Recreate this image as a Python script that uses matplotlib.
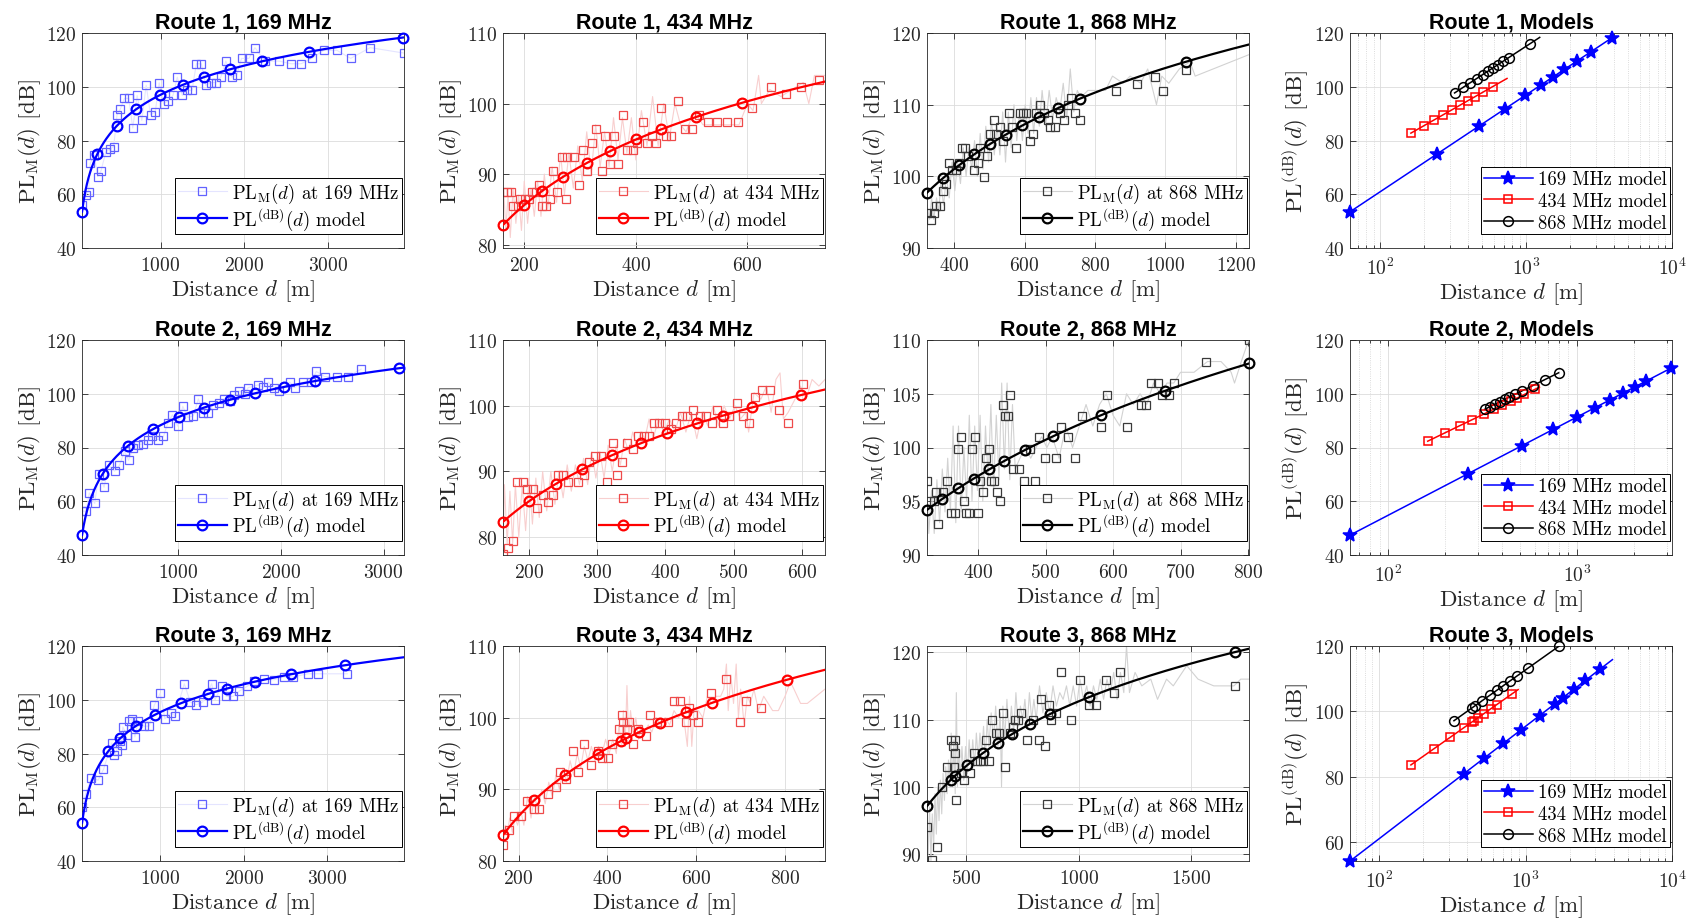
import numpy as np
import matplotlib
matplotlib.use("Agg")
import matplotlib.pyplot as plt
from matplotlib.lines import Line2D
from matplotlib.ticker import MultipleLocator, LogLocator, NullFormatter

plt.rcParams["font.family"] = "cmr10"
plt.rcParams["mathtext.fontset"] = "cm"
plt.rcParams["axes.formatter.use_mathtext"] = True

ROUTES = ["Route 1", "Route 2", "Route 3"]
FREQS = ["169", "434", "868"]

# measured path loss, square markers: (distance [m], PL [dB])
R1_169_SQ = [(62, 56.0), (108, 59.8), (140, 61.0), (160, 71.6), (208, 74.7), (248, 66.6), (288, 68.7),
             (348, 75.9), (392, 76.8), (440, 77.7), (480, 89.7), (520, 91.8), (568, 95.7), (620, 95.7),
             (668, 84.7), (720, 96.8), (776, 87.5), (828, 100.6), (880, 89.7), (936, 90.5), (984, 101.5),
             (1036, 93.7), (1088, 94.7), (1148, 96.8), (1200, 103.6), (1260, 96.8), (1312, 98.7),
             (1376, 98.7), (1428, 108.6), (1488, 108.6), (1540, 100.6), (1600, 101.6), (1660, 101.6),
             (1720, 103.6), (1780, 109.6), (1848, 103.6), (1912, 104.6), (1968, 110.6), (2056, 110.6),
             (2128, 114.6), (2248, 109.6), (2416, 109.6), (2560, 108.6), (2680, 108.6), (2808, 110.6),
             (2948, 113.6), (3108, 113.6), (3272, 110.6), (3504, 114.6), (3904, 112.6)]
R1_434_SQ = [(161.7, 87.4), (169.5, 87.4), (176.7, 87.4), (180.3, 85.4), (188.6, 85.4), (192.2, 86.5),
             (201.2, 86.5), (208.4, 86.5), (213.2, 87.4), (221.5, 87.4), (226.3, 88.5), (232.3, 85.4),
             (239.5, 85.4), (246.1, 86.5), (252.0, 90.4), (259.2, 87.4), (266.9, 92.4), (275.3, 86.5),
             (277.1, 92.4), (289.1, 92.4), (298.1, 88.5), (305.8, 93.4), (313.0, 90.4), (321.9, 94.4),
             (329.1, 96.4), (338.7, 90.4), (344.7, 95.4), (353.1, 91.4), (360.8, 95.4), (368.6, 91.4),
             (377.0, 98.4), (384.8, 93.4), (395.5, 93.4), (402.7, 94.4), (412.9, 97.4), (420.6, 94.4),
             (429.6, 95.4), (436.8, 94.4), (444.5, 99.4), (453.5, 95.4), (462.5, 95.4), (475.0, 100.4),
             (488.2, 96.4), (501.3, 96.4), (513.3, 98.4), (528.8, 97.4), (546.2, 97.4), (564.1, 97.4),
             (583.9, 97.4), (609.0, 99.4), (641.9, 102.4), (668.8, 101.4), (695.7, 102.4), (727.4, 103.4)]
R1_868_SQ = [(323.3, 94.9), (333.7, 93.9), (343.2, 94.9), (349.8, 95.9), (359.3, 95.9), (368.7, 97.9),
             (376.3, 98.9), (385.8, 101.9), (395.3, 100.9), (404.7, 100.9), (414.2, 101.9), (421.8, 103.9),
             (431.2, 103.9), (438.8, 102.9), (457.8, 100.9), (467.2, 101.9), (474.8, 103.9), (484.3, 99.9),
             (493.7, 102.9), (503.2, 105.9), (512.7, 107.9), (520.2, 105.9), (529.7, 106.9), (539.2, 104.9),
             (556.2, 108.9), (565.7, 106.9), (575.1, 103.9), (586.5, 108.9), (596.0, 108.9), (605.4, 108.9),
             (614.9, 104.9), (624.4, 105.9), (633.8, 108.9), (645.2, 109.9), (654.7, 108.9), (667.0, 107.9),
             (673.6, 106.9), (686.9, 106.9), (700.1, 108.9), (711.5, 107.9), (722.8, 109.9), (732.3, 110.9),
             (743.7, 108.9), (758.8, 107.9), (859.1, 111.9), (920.6, 112.9), (969.9, 113.9), (993.6, 111.9),
             (1059.9, 114.9)]
R2_169_SQ = [(63, 56.3), (102, 56.3), (134, 63.1), (186, 59.2), (225, 70.2), (277, 65.2), (322, 73.3),
             (380, 71.2), (426, 73.3), (477, 78.6), (516, 75.2), (558, 79.8), (607, 81.1), (652, 81.3),
             (701, 82.8), (749, 84.1), (801, 82.9), (856, 84.1), (898, 89.1), (943, 92.2), (995, 87.9),
             (1044, 95.3), (1092, 91.2), (1147, 91.8), (1196, 98.1), (1244, 93.0), (1293, 93.0),
             (1341, 95.9), (1396, 96.5), (1448, 98.1), (1503, 97.4), (1545, 99.4), (1591, 101.1),
             (1649, 99.9), (1681, 102.3), (1778, 103.3), (1830, 102.4), (1879, 104.3), (1934, 102.3),
             (1985, 101.1), (2086, 104.3), (2134, 102.3), (2215, 104.3), (2296, 104.3), (2345, 108.3),
             (2426, 106.4), (2549, 106.4), (2652, 106.4), (2782, 109.2)]
R2_434_SQ = [(161.9, 77.5), (169.7, 78.4), (177.0, 79.4), (182.9, 88.4), (191.2, 88.4), (197.6, 87.4),
             (205.9, 87.4), (212.2, 84.5), (220.5, 86.4), (228.4, 85.4), (235.2, 86.4), (243.0, 89.4),
             (249.9, 89.4), (257.7, 88.4), (272.4, 88.4), (280.7, 89.4), (288.0, 91.4), (296.8, 92.4),
             (305.1, 92.4), (313.9, 88.4), (323.2, 94.4), (329.6, 89.4), (336.9, 91.4), (344.3, 94.4),
             (352.6, 93.4), (360.4, 95.4), (368.7, 95.4), (376.0, 95.4), (383.4, 97.4), (390.7, 97.4),
             (399.5, 97.4), (407.8, 96.4), (416.1, 97.4), (424.9, 98.4), (432.3, 98.4), (440.6, 99.4),
             (450.4, 98.4), (459.2, 98.4), (468.0, 97.4), (476.3, 99.4), (484.6, 97.4), (493.4, 98.4),
             (505.6, 100.4), (514.0, 98.4), (522.8, 97.4), (531.5, 101.4), (541.3, 102.4), (553.1, 102.4),
             (566.8, 99.4), (580.4, 97.4), (601.0, 103.3)]
R2_868_SQ = [(324.4, 96.9), (328.4, 95.0), (334.3, 95.0), (337.3, 95.9), (341.2, 92.9), (348.1, 95.9),
             (354.1, 96.9), (360.5, 93.9), (365.4, 93.9), (370.4, 99.9), (375.3, 101.0), (378.8, 95.0),
             (381.7, 93.9), (386.7, 93.9), (390.6, 99.9), (395.1, 101.0), (400.0, 93.9), (403.5, 96.9),
             (407.4, 95.9), (411.4, 99.0), (416.3, 99.9), (419.8, 96.9), (423.2, 96.9), (428.1, 95.9),
             (432.1, 95.0), (437.0, 104.0), (439.5, 102.9), (444.4, 102.9), (446.9, 104.9), (451.9, 98.0),
             (460.7, 98.0), (468.1, 96.9), (476.5, 99.9), (483.9, 96.9), (490.4, 101.0), (498.8, 99.0),
             (515.1, 99.0), (523.5, 101.9), (533.3, 101.0), (543.2, 99.0), (554.6, 102.9), (582.7, 101.9),
             (591.6, 104.9), (620.7, 101.9), (642.0, 104.0), (649.4, 104.0), (656.8, 106.0), (666.7, 106.0),
             (673.1, 104.9), (683.0, 104.9), (689.9, 106.0), (738.3, 108.0), (801.5, 110.0)]
R3_169_SQ = [(63, 60.2), (108, 65.1), (176, 71.0), (256, 70.1), (320, 74.1), (420, 84.0), (448, 79.3),
             (476, 81.0), (512, 84.7), (536, 83.1), (552, 89.9), (600, 86.8), (624, 92.1), (656, 93.0),
             (696, 86.2), (736, 92.1), (800, 90.2), (868, 90.2), (928, 98.0), (1000, 102.5), (1056, 93.0),
             (1128, 95.1), (1176, 94.1), (1288, 106.0), (1360, 99.2), (1432, 98.2), (1508, 99.2),
             (1616, 106.0), (1656, 100.1), (1736, 105.0), (1792, 101.3), (1872, 101.3), (1948, 103.3),
             (2040, 105.0), (2128, 107.0), (2248, 107.6), (2368, 107.5), (2480, 108.5), (2588, 108.5),
             (2768, 109.7), (2888, 109.7), (3240, 109.7)]
R3_434_SQ = [(165.8, 82.3), (177.8, 84.3), (190.5, 86.3), (205.5, 86.3), (218.3, 88.4), (235.5, 87.3),
             (246.8, 87.3), (265.5, 89.3), (284.3, 90.4), (293.3, 92.4), (306.8, 91.4), (321.8, 95.4),
             (333.8, 92.4), (348.0, 96.4), (363.0, 93.4), (378.0, 95.4), (387.8, 94.4), (401.3, 94.4),
             (410.3, 96.4), (425.3, 98.4), (432.0, 100.4), (435.8, 99.4), (443.3, 98.4), (449.3, 99.4),
             (456.8, 96.4), (468.0, 98.4), (486.8, 97.5), (495.8, 100.4), (510.8, 99.4), (535.5, 99.4),
             (550.5, 102.4), (563.3, 102.4), (576.8, 99.4), (582.8, 101.4), (591.8, 100.4), (603.0, 99.4),
             (633.0, 103.5), (666.8, 105.4), (698.3, 99.4), (711.8, 102.4), (745.5, 101.4)]
R3_868_SQ = [(324.7, 94.0), (348.4, 89.1), (370.6, 91.1), (392.9, 100.0), (413.6, 102.9), (432.9, 107.0),
             (440.3, 106.1), (443.3, 102.9), (447.7, 105.0), (451.0, 107.0), (455.2, 98.0), (477.4, 102.0),
             (487.8, 101.0), (517.4, 102.0), (532.2, 105.0), (547.1, 103.9), (558.9, 103.9), (573.8, 103.9),
             (588.6, 107.0), (600.4, 103.9), (615.3, 110.0), (630.1, 108.0), (644.9, 108.0), (662.7, 111.0),
             (670.1, 102.9), (692.4, 108.0), (707.2, 108.9), (714.6, 110.0), (729.4, 110.0), (744.3, 111.0),
             (769.5, 107.0), (796.1, 110.0), (822.8, 107.0), (833.2, 113.0), (848.0, 106.1), (867.3, 112.1),
             (877.7, 110.0), (899.9, 111.0), (922.2, 117.0), (966.6, 110.0), (1003.7, 115.9), (1045.2, 112.1),
             (1077.8, 112.1), (1119.3, 115.9), (1154.9, 114.0), (1184.6, 117.0), (1693.1, 115.0)]

# full-rate measured trace (faint line) for 434/868 MHz: (distance [m], PL [dB])
R1_434_RAW = [(162, 81), (163, 88), (167, 82), (171, 87), (175, 81), (180, 88), (185, 83), (190, 87),
              (195, 82), (200, 89), (206, 83), (212, 88), (218, 84), (224, 89), (230, 84), (236, 90),
              (242, 85), (250, 91), (258, 86), (265, 93), (272, 87), (280, 93), (288, 88), (296, 94),
              (304, 89), (312, 96), (320, 90), (328, 97), (336, 91), (344, 96), (352, 91), (360, 98),
              (368, 92), (376, 98), (384, 93), (392, 98), (400, 92), (410, 99), (420, 94), (430, 101),
              (440, 94), (450, 100), (460, 95), (470, 100), (480, 97), (490, 96), (505, 99), (520, 97),
              (540, 97), (560, 97), (585, 97), (600, 100), (610, 99), (620, 104), (625, 100), (640, 102),
              (660, 101), (680, 102), (700, 103), (710, 100), (720, 104), (739, 104)]
R1_868_RAW = [(323, 96), (330, 94), (336, 97), (342, 94), (350, 97), (356, 95), (362, 99), (370, 96),
              (378, 100), (386, 97), (394, 102), (402, 98), (410, 102), (418, 99), (426, 104), (434, 100),
              (442, 104), (450, 101), (458, 105), (466, 100), (474, 106), (482, 101), (490, 107), (498, 102),
              (506, 108), (514, 103), (522, 107), (530, 103), (538, 109), (546, 102), (554, 109), (562, 104),
              (570, 110), (578, 105), (586, 109), (594, 105), (602, 110), (610, 106), (618, 111), (626, 106),
              (634, 111), (642, 107), (650, 112), (660, 107), (670, 112), (680, 108), (690, 111), (700, 109),
              (710, 113), (720, 108), (730, 115), (740, 109), (750, 112), (760, 111), (780, 112), (830, 112),
              (850, 114), (880, 113), (900, 114), (930, 113), (950, 115), (975, 110), (990, 114), (1010, 113),
              (1040, 115), (1070, 116), (1085, 114), (1238, 117)]
R2_434_RAW = [(162, 77.5), (164, 88), (168, 79), (172, 87), (176, 79), (180, 88), (185, 80), (190, 88),
              (195, 81), (200, 89), (205, 82), (210, 89), (215, 83), (220, 90), (226, 84), (232, 90),
              (238, 85), (244, 90), (250, 86), (256, 91), (262, 87), (268, 91), (274, 88), (280, 92),
              (286, 88), (292, 93), (298, 89), (304, 93), (310, 89), (316, 94), (322, 90), (328, 94),
              (334, 91), (340, 95), (346, 93), (352, 96), (358, 94), (364, 96), (370, 95), (376, 98),
              (382, 95), (390, 98), (398, 96), (406, 98), (414, 96), (422, 99), (430, 96), (438, 99),
              (446, 95), (454, 99), (462, 97), (470, 100), (478, 97), (486, 100), (494, 98), (502, 100),
              (510, 98), (518, 99), (522, 96), (530, 102), (540, 101), (548, 103), (555, 99), (562, 104),
              (568, 105), (573, 98), (580, 99), (590, 101), (598, 103), (606, 101), (615, 104), (625, 103),
              (634, 104)]
R2_868_RAW = [(324, 97), (327, 92), (331, 96), (335, 92), (339, 97), (343, 93), (347, 98), (351, 94),
              (355, 99), (359, 94), (363, 102), (367, 93), (371, 102), (375, 94), (379, 100), (383, 95),
              (387, 103), (391, 95), (395, 102), (399, 96), (403, 103), (407, 95), (411, 102), (415, 97),
              (419, 104), (423, 96), (427, 103), (431, 97), (435, 106), (439, 98), (443, 106), (447, 97),
              (451, 104), (455, 98), (462, 99), (470, 100), (478, 99), (486, 100), (494, 101), (502, 100),
              (510, 101), (520, 99), (530, 102), (540, 100), (550, 102), (560, 104), (570, 102), (580, 104),
              (590, 105), (600, 103), (610, 102), (620, 105), (630, 104), (640, 105), (650, 104), (660, 106),
              (670, 105), (680, 106), (690, 106), (700, 107), (720, 107), (740, 108), (760, 108), (775, 107),
              (780, 106), (790, 108), (801, 110)]
R3_434_RAW = [(166, 82), (170, 85), (175, 84), (180, 86), (186, 84), (192, 86), (198, 85), (205, 87),
              (212, 85), (220, 89), (228, 86), (236, 89), (244, 87), (252, 90), (260, 88), (268, 91),
              (276, 89), (284, 92), (292, 90), (300, 93), (308, 91), (316, 94), (324, 92), (332, 95),
              (340, 93), (348, 96), (356, 94), (364, 96), (372, 94), (380, 96), (388, 95), (396, 97),
              (404, 95), (412, 97), (420, 95), (426, 99), (432, 96), (436, 101), (440, 96), (444, 104.5),
              (448, 97), (452, 101), (458, 98), (464, 100), (470, 97), (476, 99), (484, 98), (492, 99),
              (500, 98), (510, 100), (520, 99), (530, 100), (540, 99), (550, 101), (560, 100), (570, 101),
              (580, 96), (585, 103), (590, 96), (595, 101), (605, 101), (615, 100), (625, 103), (635, 102),
              (645, 103), (655, 103), (662, 104), (668, 107.5), (672, 101), (678, 106), (684, 102),
              (690, 107.5), (695, 100), (700, 104), (708, 99), (715, 103), (722, 102), (730, 104), (740, 101),
              (752, 103), (762, 102), (772, 101), (785, 101), (800, 103), (812, 105), (820, 104), (835, 102),
              (850, 102), (870, 103), (890, 104)]
R3_868_RAW = [(325, 95), (330, 90), (336, 97), (342, 89), (348, 96), (354, 91), (360, 99), (366, 93),
              (372, 100), (378, 95), (384, 101), (390, 96), (396, 102), (402, 98), (408, 103), (414, 99),
              (420, 104), (426, 100), (432, 108), (438, 100), (444, 107), (450, 99), (455, 114), (460, 100),
              (466, 106), (472, 101), (480, 106), (488, 101), (496, 106), (504, 102), (512, 107), (520, 103),
              (528, 107), (536, 103), (544, 108), (552, 104), (560, 108), (568, 105), (576, 109), (584, 104),
              (592, 110), (600, 106), (610, 111), (620, 107), (630, 112), (640, 106), (650, 111), (656, 100),
              (662, 112), (670, 107), (680, 113), (690, 108), (700, 112), (710, 108), (720, 114), (730, 109),
              (740, 112), (750, 110), (760, 113), (770, 109), (780, 114), (790, 110), (800, 113), (810, 110),
              (825, 115), (840, 111), (855, 114), (870, 111), (885, 115), (900, 112), (915, 114), (930, 113),
              (945, 115), (960, 112), (975, 115), (990, 112), (1005, 116), (1020, 113), (1035, 115),
              (1050, 112), (1065, 115), (1080, 113), (1095, 116), (1110, 113), (1125, 116), (1140, 114),
              (1155, 117), (1170, 113), (1185, 117), (1200, 114), (1212, 121), (1225, 114), (1250, 117),
              (1280, 115), (1320, 116), (1350, 113), (1390, 116), (1420, 115), (1480, 118), (1530, 116),
              (1600, 115), (1690, 115), (1720, 116), (1757, 116)]

# log-distance model: PL(d) = PL0 + 10 n log10(d)
MODEL_PL0 = {("Route 1", "169"): -11.15, ("Route 1", "434"): 14.57, ("Route 1", "868"): 8.81,
             ("Route 2", "169"): -18.22, ("Route 2", "434"): 7.37, ("Route 2", "868"): 7.14,
             ("Route 3", "169"): -7.85, ("Route 3", "434"): 13.73, ("Route 3", "868"): 17.17}
MODEL_N = {("Route 1", "169"): 3.607, ("Route 1", "434"): 3.087, ("Route 1", "868"): 3.544,
           ("Route 2", "169"): 3.651, ("Route 2", "434"): 3.394, ("Route 2", "868"): 3.467,
           ("Route 3", "169"): 3.443, ("Route 3", "434"): 3.152, ("Route 3", "868"): 3.185}
# distances where the model markers sit
MARK_D = {("Route 1", "169"): [62, 246, 475, 711, 989, 1265, 1519, 1826, 2214, 2772, 3897],
          ("Route 1", "434"): [162.3, 199.4, 231.7, 269.4, 311.8, 353.7, 400.3, 445.7, 507.3, 589.8],
          ("Route 1", "868"): [323, 368.7, 414.2, 457.7, 503.2, 546.8, 594.1, 641.5, 696.4, 757, 1059.9],
          ("Route 2", "169"): [62.7, 265.8, 513.5, 751, 1008, 1252, 1505, 1751, 2029, 2332, 3150],
          ("Route 2", "434"): [161.9, 200, 240.1, 278.2, 322.2, 363.8, 402.9, 446.9, 484.6, 527.6, 599.5],
          ("Route 2", "868"): [324.4, 347.2, 370.4, 393.6, 416.3, 438.5, 469.1, 511.1, 582.7, 676.5, 801.5],
          ("Route 3", "169"): [63.4, 379.8, 519.7, 704.3, 934.3, 1246, 1577, 1797, 2136, 2566, 3213],
          ("Route 3", "434"): [165.8, 235.5, 305.3, 378, 430.5, 441.8, 470.3, 518.3, 576.8, 634.5, 805.5],
          ("Route 3", "868"): [324.7, 430, 450.7, 502.6, 573.8, 642, 704.2, 781.3, 870.3, 1043.7, 1693.1]}

SQUARES = {("Route 1", "169"): R1_169_SQ, ("Route 1", "434"): R1_434_SQ, ("Route 1", "868"): R1_868_SQ,
           ("Route 2", "169"): R2_169_SQ, ("Route 2", "434"): R2_434_SQ, ("Route 2", "868"): R2_868_SQ,
           ("Route 3", "169"): R3_169_SQ, ("Route 3", "434"): R3_434_SQ, ("Route 3", "868"): R3_868_SQ}
RAW = {("Route 1", "434"): R1_434_RAW, ("Route 1", "868"): R1_868_RAW,
       ("Route 2", "434"): R2_434_RAW, ("Route 2", "868"): R2_868_RAW,
       ("Route 3", "434"): R3_434_RAW, ("Route 3", "868"): R3_868_RAW}

# axis ranges: (xlim, ylim, xstep, ystep)
LIMITS = {("Route 1", "169"): ((62, 3910), (40, 120), 1000, 20),
          ("Route 1", "434"): ((162, 739), (79.5, 110), 200, 10),
          ("Route 1", "868"): ((323, 1238), (90, 120), 200, 10),
          ("Route 2", "169"): ((62.7, 3200), (40, 120), 1000, 20),
          ("Route 2", "434"): ((161.9, 634), (77.3, 110), 100, 10),
          ("Route 2", "868"): ((324.4, 801.5), (90, 110), 100, 5),
          ("Route 3", "169"): ((63.4, 3920), (40, 120), 1000, 20),
          ("Route 3", "434"): ((165, 890), (80, 110), 200, 10),
          ("Route 3", "868"): ((324.7, 1757), (89, 120.9), 500, 10)}
MODEL_LIMITS = {"Route 1": ((62, 1e4), (40, 120)),
                "Route 2": ((62.7, 3200), (40, 120)),
                "Route 3": ((63.4, 1e4), (54.2, 120))}

LINE_C = {"169": "#0000ff", "434": "#ff0000", "868": "#000000"}
SQ_C = {"169": "#6262ff", "434": "#ee4a4a", "868": "#3a3a3a"}
RAW_C = {"169": "#e4e4ff", "434": "#f8cfcf", "868": "#d2d2d2"}
AX_C = "#262626"

COL_X = [0.0485, 0.2973, 0.5479, 0.7979]
ROW_Y = [0.7293, 0.3957, 0.0630]
AX_W, AX_H = 0.1903, 0.2336


def model(key, d):
    return MODEL_PL0[key] + 10 * MODEL_N[key] * np.log10(d)


def style(ax):
    for s in ax.spines.values():
        s.set_color(AX_C)
        s.set_linewidth(0.6)
    ax.tick_params(which="both", direction="in", top=True, right=True, colors=AX_C,
                   labelsize=14, width=0.6)
    ax.tick_params(which="major", length=4)
    ax.tick_params(which="minor", length=2)
    ax.tick_params(axis="x", pad=6)
    ax.tick_params(axis="y", pad=4)
    ax.set_axisbelow(True)
    ax.grid(True, which="major", color="#dcdcdc", linewidth=0.6)


def legend(ax, handles, labels, anchor_y, spacing):
    leg = ax.legend(handles, labels, loc="lower right", bbox_to_anchor=(1.0, anchor_y),
                    borderaxespad=0.1, fontsize=13.5, frameon=True, fancybox=False,
                    framealpha=1, edgecolor="#000000", handlelength=2.6, handletextpad=0.3,
                    borderpad=0.15, labelspacing=spacing)
    leg.get_frame().set_linewidth(0.7)


fig = plt.figure(figsize=(16.92, 9.2), dpi=100)

for r, route in enumerate(ROUTES):
    for c, freq in enumerate(FREQS):
        key = (route, freq)
        ax = fig.add_axes([COL_X[c], ROW_Y[r], AX_W, AX_H])
        style(ax)
        xlim, ylim, xstep, ystep = LIMITS[key]
        sq = np.array(SQUARES[key])
        raw = np.array(RAW[key]) if key in RAW else sq
        ax.plot(raw[:, 0], raw[:, 1], color=RAW_C[freq], lw=0.8, zorder=1)
        ax.plot(sq[:, 0], sq[:, 1], ls="none", marker="s", ms=5.5, mfc="none",
                mec=SQ_C[freq], mew=0.9, zorder=2)
        dd = np.linspace(xlim[0], xlim[1], 400)
        ax.plot(dd, model(key, dd), color=LINE_C[freq], lw=1.6, zorder=3)
        md = np.array(MARK_D[key])
        ax.plot(md, model(key, md), ls="none", marker="o", ms=7, mfc="none",
                mec=LINE_C[freq], mew=1.6, zorder=4, clip_on=False)
        ax.set_xlim(*xlim)
        ax.set_ylim(*ylim)
        ax.xaxis.set_major_locator(MultipleLocator(xstep))
        ax.yaxis.set_major_locator(MultipleLocator(ystep))
        ax.set_title(f"{route}, {freq} MHz", fontsize=15.5, fontweight="bold",
                     family="Liberation Sans", pad=4)
        ax.set_xlabel(r"Distance $d$ [m]", fontsize=16.5, color=AX_C, labelpad=2)
        ax.set_ylabel(r"$\mathrm{PL}_{\mathrm{M}}(d)$ [dB]", fontsize=16.5, color=AX_C, labelpad=2)
        h1 = Line2D([], [], color=RAW_C[freq], lw=0.8, marker="s", ms=5.5, mfc="none",
                    mec=SQ_C[freq], mew=0.9)
        h2 = Line2D([], [], color=LINE_C[freq], lw=1.6, marker="o", ms=7, mfc="none",
                    mec=LINE_C[freq], mew=1.6)
        legend(ax, [h1, h2], [r"$\mathrm{PL}_{\mathrm{M}}(d)$ at " + freq + " MHz",
                              r"$\mathrm{PL}^{(\mathrm{dB})}(d)$ model"], 0.055, 0.02)

    # models panel
    ax = fig.add_axes([COL_X[3], ROW_Y[r], AX_W, AX_H])
    ax.set_xscale("log")
    style(ax)
    ax.grid(True, which="minor", color="#d0d0d0", linewidth=0.6, linestyle=":")
    markers = {"169": dict(marker="*", ms=10, mfc=LINE_C["169"]),
               "434": dict(marker="s", ms=6, mfc="none"),
               "868": dict(marker="o", ms=7, mfc="none")}
    handles = []
    for freq in FREQS:
        key = (route, freq)
        xlim = LIMITS[key][0]
        dd = np.geomspace(xlim[0], xlim[1], 200)
        ax.plot(dd, model(key, dd), color=LINE_C[freq], lw=1.1, zorder=3)
        md = np.array(MARK_D[key])
        ax.plot(md, model(key, md), ls="none", mec=LINE_C[freq], mew=1.1, zorder=4,
                clip_on=False, **markers[freq])
        handles.append(Line2D([], [], color=LINE_C[freq], lw=1.1, mec=LINE_C[freq],
                              mew=1.1, **markers[freq]))
    xl, yl = MODEL_LIMITS[route]
    ax.set_xlim(*xl)
    ax.set_ylim(*yl)
    ax.xaxis.set_major_locator(LogLocator(base=10, numticks=10))
    ax.xaxis.set_minor_locator(LogLocator(base=10, subs=np.arange(2, 10), numticks=10))
    ax.xaxis.set_minor_formatter(NullFormatter())
    ax.yaxis.set_major_locator(MultipleLocator(20))
    ax.set_title(f"{route}, Models", fontsize=15.5, fontweight="bold",
                 family="Liberation Sans", pad=4)
    ax.set_xlabel(r"Distance $d$ [m]", fontsize=16.5, color=AX_C, labelpad=2)
    ax.set_ylabel(r"$\mathrm{PL}^{(\mathrm{dB})}(d)$ [dB]", fontsize=16.5, color=AX_C, labelpad=2)
    legend(ax, handles, [f"{f} MHz model" for f in FREQS], 0.055, 0.2)

fig.savefig("out.png", dpi=100)
